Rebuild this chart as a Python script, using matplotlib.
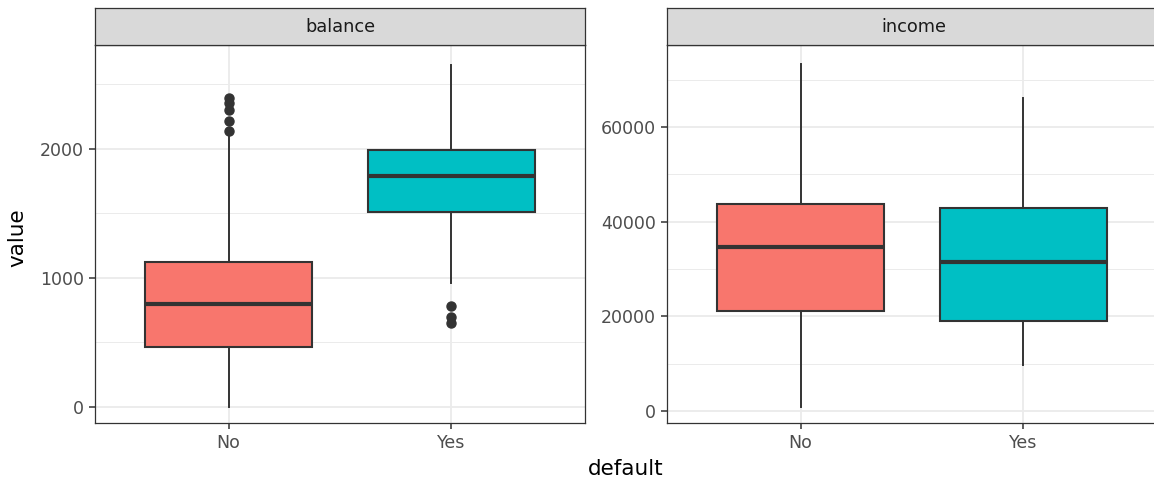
import numpy as np
import matplotlib.pyplot as plt

# box statistics
categories = ["No", "Yes"]
colors = ["#F8766D", "#00BFC4"]

balance_q1 = [465, 1512]
balance_med = [798, 1791]
balance_q3 = [1124, 1992]
balance_lo = [0, 961]
balance_hi = [2100, 2651]
balance_out = [[2140, 2217, 2302, 2356, 2395], [652, 700, 783]]

income_q1 = [21180, 19000]
income_med = [34630, 31470]
income_q3 = [43700, 42870]
income_lo = [770, 9700]
income_hi = [73280, 66100]
income_out = [[], []]

W, H = 1154, 488
fig = plt.figure(figsize=(W / 100, H / 100), dpi=100)

dark = "#333333"
grid_col = "#EBEBEB"


def panel(left_px, width_px, title, q1, med, q3, lo, hi, out, xlim, ylim,
          yticks, yminor):
    ax = fig.add_axes([left_px / W, (H - 423) / H, width_px / W, 378 / H])
    stats = []
    for i in range(2):
        stats.append(dict(q1=q1[i], med=med[i], q3=q3[i], whislo=lo[i],
                          whishi=hi[i], fliers=out[i], label=categories[i]))
    bp = ax.bxp(stats, positions=[1, 2], widths=0.75, patch_artist=True,
                showcaps=False,
                boxprops=dict(edgecolor=dark, linewidth=1.5),
                medianprops=dict(color=dark, linewidth=3.0, zorder=5),
                whiskerprops=dict(color=dark, linewidth=1.4),
                flierprops=dict(marker="o", markerfacecolor=dark,
                                markeredgecolor=dark, markersize=6.5))
    for patch, c in zip(bp["boxes"], colors):
        patch.set_facecolor(c)
        patch.set_zorder(4)
    ax.set_xlim(*xlim)
    ax.set_ylim(*ylim)
    ax.set_yticks(yticks)
    ax.set_yticks(yminor, minor=True)
    ax.set_xticks([1, 2])
    ax.set_xticklabels(categories)
    ax.grid(True, which="major", color=grid_col, linewidth=1.3, zorder=0)
    ax.grid(True, which="minor", axis="y", color=grid_col, linewidth=0.7, zorder=0)
    ax.set_axisbelow(True)
    ax.tick_params(which="major", length=4, width=1.1, color=dark,
                   labelcolor="#4D4D4D", labelsize=12.5, pad=4)
    ax.tick_params(which="minor", length=0)
    for s in ax.spines.values():
        s.set_color(dark)
        s.set_linewidth(0.9)
    # facet strip
    sax = fig.add_axes([left_px / W, (H - 45) / H, width_px / W, 37 / H])
    sax.set_xticks([])
    sax.set_yticks([])
    sax.set_facecolor("#D9D9D9")
    for s in sax.spines.values():
        s.set_color(dark)
        s.set_linewidth(0.9)
    sax.text(0.5, 0.5, title, ha="center", va="center", fontsize=12.8,
             color="#1A1A1A", transform=sax.transAxes)
    return ax


ax1 = panel(95, 490, "balance", balance_q1, balance_med, balance_q3,
            balance_lo, balance_hi, balance_out, (0.4, 2.6), (-124, 2806),
            [0, 1000, 2000], [500, 1500, 2500])
ax2 = panel(667, 494, "income", income_q1, income_med, income_q3, income_lo,
            income_hi, income_out, (0.4, 2.6 + 4 / 223), (-2534, 77300),
            [0, 20000, 40000, 60000], [10000, 30000, 50000, 70000])

fig.text(17 / W, 1 - 238 / H, "value", rotation=90, ha="center", va="center",
         fontsize=15.5)
fig.text(626 / W, 1 - 469 / H, "default", ha="center", va="center",
         fontsize=15.5)

fig.savefig("out.png", dpi=100)
